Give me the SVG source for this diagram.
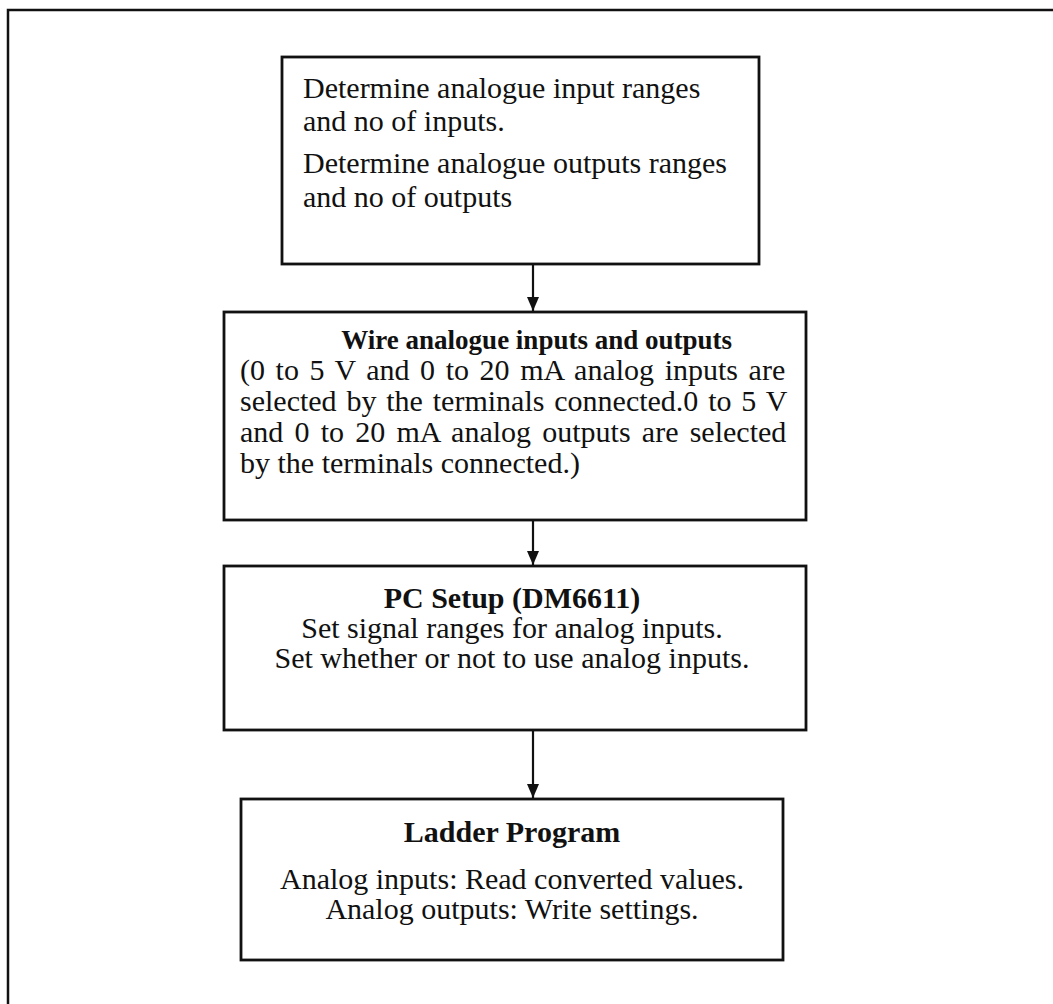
<svg xmlns="http://www.w3.org/2000/svg" width="1053" height="1004" viewBox="0 0 1053 1004">
  <style>
    .frame { fill: none; stroke: #111; stroke-width: 2.5; }
    .box { fill: #fff; stroke: #111; stroke-width: 2.8; }
    .t { font-family: "Liberation Serif", "Times New Roman", serif; font-size: 30px; fill: #111; }
    .b { font-weight: bold; }
    .c { text-anchor: middle; }
    .wire { stroke: #111; stroke-width: 2.2; fill: none; }
  </style>
  <defs>
    <marker id="arrow" viewBox="0 0 14 12" refX="14" refY="6" markerWidth="14" markerHeight="12" markerUnits="userSpaceOnUse" orient="auto">
      <path d="M0,0 L14,6 L0,12 Z" fill="#111"/>
    </marker>
  </defs>

  <rect width="1053" height="1004" fill="#fff"/>

  <!-- page frame (open at right and bottom) -->
  <path class="frame" d="M8,1004 L8,10 L1053,10"/>

  <!-- connectors -->
  <g id="connectors">
    <line class="wire" x1="533" y1="264" x2="533" y2="311" marker-end="url(#arrow)"/>
    <line class="wire" x1="533" y1="520" x2="533" y2="565" marker-end="url(#arrow)"/>
    <line class="wire" x1="533" y1="730" x2="533" y2="798" marker-end="url(#arrow)"/>
  </g>

  <!-- step 1: ranges -->
  <g id="step-ranges">
    <rect class="box" x="282" y="57" width="477" height="207"/>
    <text class="t" x="303" y="98">Determine analogue input ranges</text>
    <text class="t" x="303" y="131">and no of inputs.</text>
    <text class="t" x="303" y="173">Determine analogue outputs ranges</text>
    <text class="t" x="303" y="207">and no of outputs</text>
  </g>

  <!-- step 2: wiring (justified body text) -->
  <g id="step-wiring">
    <rect class="box" x="224" y="312" width="582" height="208"/>
    <text class="t b" x="732" y="349" text-anchor="end" style="font-size:27px">Wire analogue inputs and outputs</text>
    <text class="t" x="240" y="380" style="word-spacing:3.08px">(0 to 5 V and 0 to 20 mA analog inputs are</text>
    <text class="t" x="240" y="411" style="word-spacing:2.34px">selected by the terminals connected.0 to 5 V</text>
    <text class="t" x="240" y="442" style="word-spacing:3.72px">and 0 to 20 mA analog outputs are selected</text>
    <text class="t" x="240" y="473">by the terminals connected.)</text>
  </g>

  <!-- step 3: PC setup -->
  <g id="step-pc-setup">
    <rect class="box" x="224" y="566" width="582" height="164"/>
    <text class="t b c" x="512" y="608">PC Setup (DM6611)</text>
    <text class="t c" x="512" y="638">Set signal ranges for analog inputs.</text>
    <text class="t c" x="512" y="668">Set whether or not to use analog inputs.</text>
  </g>

  <!-- step 4: ladder program -->
  <g id="step-ladder">
    <rect class="box" x="241" y="799" width="542" height="161"/>
    <text class="t b c" x="512" y="842">Ladder Program</text>
    <text class="t c" x="512" y="889">Analog inputs: Read converted values.</text>
    <text class="t c" x="512" y="919">Analog outputs: Write settings.</text>
  </g>
</svg>
